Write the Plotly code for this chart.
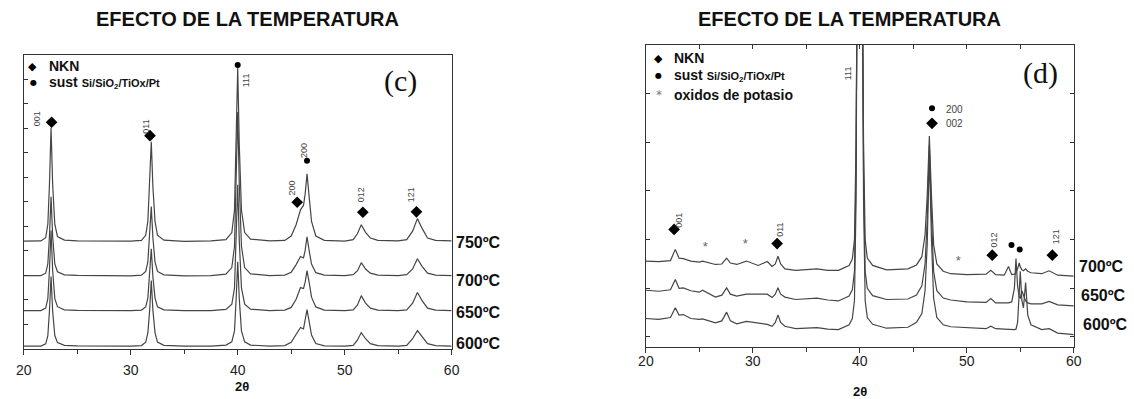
import plotly.graph_objects as go

W, H = 1134, 399

# ---------------- Panel (c) data ----------------
two_theta_c = [20, 21.6, 22.05, 22.25, 22.4, 22.55, 22.7, 22.9, 23.15, 23.8, 25, 27.5, 30,
               31.0, 31.4, 31.6, 31.77, 31.92, 32.07, 32.27, 32.5, 33.1, 35, 37.5,
               38.9, 39.45, 39.7, 39.85, 40.0, 40.15, 40.35, 40.65, 41.2, 43,
               44.4, 45.0, 45.45, 45.87, 46.15, 46.3, 46.48, 46.68, 46.9, 47.3, 48.1, 50,
               50.8, 51.2, 51.55, 51.95, 52.4, 53.1, 55,
               55.8, 56.35, 56.8, 57.25, 57.75, 58.5, 60]

c_750 = [4.39, 4.40, 4.53, 5.08, 6.70, 9.02, 6.70, 5.08, 4.58, 4.43, 4.40, 4.38, 4.39,
         4.42, 4.63, 5.20, 6.62, 8.45, 6.62, 5.20, 4.63, 4.43, 4.38, 4.40,
         4.45, 4.74, 5.66, 8.28, 11.47, 8.28, 5.66, 4.74, 4.47, 4.40,
         4.42, 4.60, 5.05, 5.67, 5.85, 6.30, 7.14, 6.20, 5.20, 4.60, 4.42, 4.39,
         4.45, 4.70, 5.06, 4.75, 4.52, 4.42, 4.40,
         4.45, 4.80, 5.31, 4.90, 4.52, 4.42, 4.40]
c_700 = [2.98, 2.98, 3.08, 3.46, 4.59, 6.20, 4.59, 3.46, 3.14, 3.01, 2.99, 2.98, 2.97,
         3.00, 3.15, 3.54, 4.53, 5.80, 4.53, 3.54, 3.15, 3.01, 2.97, 2.98,
         3.04, 3.31, 4.18, 6.66, 9.67, 6.66, 4.18, 3.31, 3.05, 2.98,
         3.00, 3.12, 3.42, 3.76, 3.70, 4.00, 4.57, 4.00, 3.45, 3.10, 3.00, 2.98,
         3.02, 3.18, 3.51, 3.25, 3.08, 3.00, 2.98,
         3.02, 3.25, 3.67, 3.35, 3.08, 3.00, 2.98]
c_650 = [1.55, 1.55, 1.65, 2.04, 3.19, 4.82, 3.19, 2.04, 1.71, 1.58, 1.56, 1.55, 1.55,
         1.57, 1.70, 2.06, 2.94, 4.08, 2.94, 2.06, 1.70, 1.58, 1.55, 1.55,
         1.60, 1.81, 2.48, 4.38, 6.69, 4.38, 2.48, 1.81, 1.61, 1.55,
         1.57, 1.68, 2.00, 2.49, 2.45, 2.70, 3.18, 2.70, 2.10, 1.70, 1.57, 1.55,
         1.58, 1.78, 2.16, 1.85, 1.65, 1.57, 1.55,
         1.58, 1.85, 2.29, 1.95, 1.65, 1.57, 1.55]
c_600 = [0.10, 0.10, 0.19, 0.53, 1.52, 2.94, 1.52, 0.53, 0.24, 0.13, 0.11, 0.10, 0.10,
         0.12, 0.26, 0.64, 1.57, 2.78, 1.57, 0.64, 0.26, 0.13, 0.10, 0.10,
         0.14, 0.27, 0.72, 2.00, 3.55, 2.00, 0.72, 0.27, 0.14, 0.10,
         0.12, 0.25, 0.55, 0.86, 0.80, 1.10, 1.59, 1.10, 0.55, 0.20, 0.11, 0.10,
         0.13, 0.35, 0.65, 0.40, 0.20, 0.12, 0.10,
         0.13, 0.40, 0.73, 0.48, 0.20, 0.12, 0.10]

temps_c = ["750ºC", "700ºC", "650ºC", "600ºC"]
temps_c_y = [4.35, 2.80, 1.49, 0.22]

nkn_c_x = [22.6, 31.8, 45.56, 51.7, 56.71]
nkn_c_y = [9.25, 8.70, 5.98, 5.57, 5.59]
pt_c_x = [40.0, 46.48]
pt_c_y = [11.59, 7.68]
hkl_c_text = ["001", "011", "111", "200", "200", "012", "121"]
hkl_c_x = [21.23, 31.43, 40.8, 46.18, 45.1, 51.55, 56.15]
hkl_c_y = [9.41, 9.07, 10.98, 8.11, 6.55, 6.28, 6.28]

# ---------------- Panel (d) data ----------------
two_theta_d = [20, 21.2, 22.3, 22.75, 23.1, 23.5, 24.2, 25.0, 25.3, 26.5,
               27.1, 27.55, 27.9, 28.5, 29.4, 30.5, 31.35, 31.8, 32.1, 32.35,
               32.6, 33.0, 34.0, 36.0, 37.0, 38.0, 39.0, 39.3, 39.5, 39.65,
               39.75, 40.0, 40.25, 40.35, 40.5, 40.7, 41.2, 42.5, 44.5, 45.3,
               45.8, 46.1, 46.3, 46.5, 46.7, 46.9, 47.2, 47.8, 48.5, 50.0,
               51.8, 52.25, 52.7, 53.5, 53.9, 54.2, 54.45, 54.6, 54.75, 54.9,
               55.0, 55.15, 55.3, 55.5, 55.7, 56.0, 57.0, 57.7, 58.5, 60.0]

d_700 = [1.56, 1.55, 1.57, 1.80, 1.62, 1.61, 1.56, 1.54, 1.56, 1.49,
         1.50, 1.62, 1.52, 1.49, 1.56, 1.47, 1.55, 1.45, 1.50, 1.66,
         1.50, 1.40, 1.37, 1.40, 1.37, 1.37, 1.47, 1.60, 2.00, 4.00,
         7.00, 20.0, 7.00, 4.00, 2.00, 1.62, 1.47, 1.38, 1.40, 1.48,
         1.65, 2.10, 2.90, 4.13, 2.90, 1.90, 1.50, 1.35, 1.30, 1.28,
         1.29, 1.37, 1.28, 1.27, 1.45, 1.28, 1.29, 1.32, 1.40, 1.52,
         1.44, 1.38, 1.36, 1.40, 1.35, 1.32, 1.30, 1.36, 1.27, 1.25]
d_650 = [0.96, 0.94, 0.97, 1.18, 1.00, 1.01, 0.95, 0.92, 0.96, 0.82,
         0.86, 1.01, 0.88, 0.84, 0.88, 0.88, 0.88, 0.81, 0.88, 1.01,
         0.88, 0.82, 0.77, 0.80, 0.76, 0.74, 0.84, 0.97, 1.35, 3.40,
         7.00, 20.0, 7.00, 3.40, 1.35, 1.00, 0.85, 0.77, 0.78, 0.86,
         1.05, 1.50, 2.40, 3.95, 2.50, 1.35, 0.95, 0.80, 0.76, 0.72,
         0.71, 0.79, 0.70, 0.69, 0.70, 0.72, 1.00, 1.61, 1.05, 0.82,
         0.80, 0.95, 0.85, 0.74, 0.70, 0.68, 0.68, 0.73, 0.66, 0.64]
d_600 = [0.38, 0.36, 0.40, 0.60, 0.45, 0.46, 0.38, 0.36, 0.37, 0.29,
         0.33, 0.51, 0.33, 0.27, 0.32, 0.29, 0.26, 0.22, 0.30, 0.45,
         0.30, 0.22, 0.17, 0.19, 0.16, 0.15, 0.25, 0.38, 0.75, 2.80,
         7.00, 20.0, 7.00, 2.80, 0.75, 0.40, 0.26, 0.18, 0.20, 0.30,
         0.48, 0.95, 1.90, 3.75, 2.00, 0.80, 0.40, 0.25, 0.21, 0.19,
         0.17, 0.22, 0.17, 0.16, 0.15, 0.15, 0.15, 0.16, 0.30, 0.90,
         1.35, 0.75, 0.60, 1.12, 0.45, 0.25, 0.15, 0.17, 0.08, 0.05]

temps_d = ["700ºC", "650ºC", "600ºC"]
temps_d_y = [1.45, 0.86, 0.26]

nkn_d_x = [22.64, 32.27, 46.75, 52.38, 58.0]
nkn_d_y = [2.21, 1.92, 4.39, 1.68, 1.68]
pt_d_x = [46.75, 54.18, 54.95]
pt_d_y = [4.70, 1.89, 1.80]
kox_d_x = [25.55, 29.3, 49.2]
kox_d_y = [1.84, 1.89, 1.55]
hkl_d_text = ["001", "011", "111", "012", "121"]
hkl_d_x = [23.16, 32.58, 38.9, 52.54, 58.34]
hkl_d_y = [2.40, 2.21, 5.42, 2.00, 2.07]
hkl_d_side_text = ["200", "002"]
hkl_d_side_x = [47.9, 47.9]
hkl_d_side_y = [4.68, 4.38]

# ---------------- figure ----------------
FONT = "Liberation Sans, Arial, sans-serif"
SERIF = "Liberation Serif, Times New Roman, serif"
SYM = "DejaVu Sans, sans-serif"
LINE = "#454545"

# plot-area edges in pixels
C_L, C_R, C_T, C_B = 16, 450, 55, 348.5
D_L, D_R, D_T, D_B = 647, 1081, 45, 346.7


def px_x(p):
    return p / W


def px_y(p):
    return 1 - p / H


fig = go.Figure()

for ys in (c_600, c_650, c_700, c_750):
    fig.add_trace(go.Scatter(x=two_theta_c, y=ys, mode="lines",
                             line=dict(color=LINE, width=1.2),
                             xaxis="x", yaxis="y", showlegend=False, hoverinfo="skip"))
for ys in (d_600, d_650, d_700):
    fig.add_trace(go.Scatter(x=two_theta_d, y=ys, mode="lines",
                             line=dict(color=LINE, width=1.2),
                             xaxis="x2", yaxis="y2", showlegend=False, hoverinfo="skip"))

fig.add_trace(go.Scatter(x=nkn_c_x, y=nkn_c_y, mode="markers",
                         marker=dict(symbol="diamond", size=9, color="black"),
                         xaxis="x", yaxis="y", showlegend=False))
fig.add_trace(go.Scatter(x=pt_c_x, y=pt_c_y, mode="markers",
                         marker=dict(symbol="circle", size=6, color="black"),
                         xaxis="x", yaxis="y", showlegend=False))
fig.add_trace(go.Scatter(x=nkn_d_x, y=nkn_d_y, mode="markers",
                         marker=dict(symbol="diamond", size=9, color="black"),
                         xaxis="x2", yaxis="y2", showlegend=False))
fig.add_trace(go.Scatter(x=pt_d_x, y=pt_d_y, mode="markers",
                         marker=dict(symbol="circle", size=6, color="black"),
                         xaxis="x2", yaxis="y2", showlegend=False))
fig.add_trace(go.Scatter(x=kox_d_x, y=kox_d_y, mode="text", text=["*"] * len(kox_d_x),
                         textfont=dict(family=FONT, size=13, color="#666"),
                         xaxis="x2", yaxis="y2", showlegend=False))
# helper trace for the top tick axis of panel (d)
fig.add_trace(go.Scatter(x=[None], y=[None], xaxis="x3", yaxis="y2",
                         showlegend=False, hoverinfo="skip"))

ann = []


def add_text(text, x, y, size, family=FONT, color="#111", xanchor="center",
             xref="paper", yref="paper", angle=0):
    ann.append(dict(text=text, x=x, y=y, xref=xref, yref=yref, showarrow=False,
                    xanchor=xanchor, yanchor="middle", textangle=angle,
                    font=dict(family=family, size=size, color=color)))


# titles
add_text("<b>EFECTO DE LA TEMPERATURA</b>", px_x(243), px_y(19), 20)
add_text("<b>EFECTO DE LA TEMPERATURA</b>", px_x(854), px_y(19), 20)
# panel letters
add_text("(c)", px_x(398), px_y(81), 30, family=SERIF)
add_text("(d)", px_x(1047), px_y(73), 30, family=SERIF)
# hkl labels
for t, x, y in zip(hkl_c_text, hkl_c_x, hkl_c_y):
    add_text(t, x, y, 9, color="#444", xref="x", yref="y", angle=-90)
for t, x, y in zip(hkl_d_text, hkl_d_x, hkl_d_y):
    add_text(t, x, y, 9, color="#444", xref="x2", yref="y2", angle=-90)
for t, x, y in zip(hkl_d_side_text, hkl_d_side_x, hkl_d_side_y):
    add_text(t, x, y, 10, color="#444", xref="x2", yref="y2", xanchor="left")
# temperature labels
for t, y in zip(temps_c, temps_c_y):
    add_text("<b>" + t + "</b>", px_x(452), y, 16, xanchor="left", yref="y")
for t, y, x0 in zip(temps_d, temps_d_y, (1084, 1086, 1088)):
    add_text("<b>" + t + "</b>", px_x(x0), y, 16, xanchor="left", yref="y2")
# axis titles
add_text("<b>2θ</b>", px_x(237), px_y(386), 13)
add_text("<b>2θ</b>", px_x(864), px_y(391), 13)

# in-plot keys
sust = "<b>sust <span style='font-size:11px'>Si/SiO<sub>2</sub>/TiOx/Pt</span></b>"
keys = [
    ("◆", 11, "black", 25, 66, "<b>NKN</b>", 40),
    ("●", 8, "black", 26, 82, sust, 40),
    ("◆", 11, "black", 660, 58, "<b>NKN</b>", 673),
    ("●", 8, "black", 660, 75, sust, 673),
    ("*", 12, "#777", 660, 95, "<b>oxidos de potasio</b>", 673),
]
for sym, ssize, scol, sx, sy, txt, tx in keys:
    add_text(sym, px_x(sx), px_y(sy), ssize, family=SYM, color=scol)
    add_text(txt, px_x(tx), px_y(sy), 14, xanchor="left")

axis_common = dict(showgrid=False, zeroline=False, showline=True, linewidth=1.2,
                   linecolor="#333")

fig.update_layout(
    width=W, height=H, margin=dict(l=0, r=0, t=0, b=0),
    paper_bgcolor="white", plot_bgcolor="white", showlegend=False,
    annotations=ann,
    xaxis=dict(domain=[px_x(C_L), px_x(C_R)], range=[20, 60], anchor="y",
               tickmode="linear", tick0=20, dtick=10, ticks="outside", ticklen=5,
               tickcolor="#333", mirror=True,
               minor=dict(dtick=5, tick0=20, ticks="outside", ticklen=4, tickcolor="#333"),
               tickfont=dict(family=FONT, size=14, color="#222"),
               ticklabelstandoff=4, **axis_common),
    yaxis=dict(domain=[px_y(C_B), px_y(C_T)], range=[0, 12], anchor="x",
               tickmode="linear", tick0=0, dtick=1, ticks="inside", ticklen=4,
               tickcolor="#333", showticklabels=False, mirror=True, **axis_common),
    xaxis2=dict(domain=[px_x(D_L), px_x(D_R)], range=[20, 60], anchor="y2",
                tickmode="linear", tick0=20, dtick=10, ticks="outside", ticklen=5,
                tickcolor="#333", mirror=True,
                minor=dict(dtick=5, tick0=20, ticks="outside", ticklen=4, tickcolor="#333"),
                tickfont=dict(family=FONT, size=14, color="#222"),
                ticklabelstandoff=-4, **axis_common),
    xaxis3=dict(overlaying="x2", side="top", anchor="y2", range=[20, 60],
                tickmode="linear", tick0=20, dtick=5, ticks="inside", ticklen=4,
                tickcolor="#333", showticklabels=False, showgrid=False, zeroline=False,
                showline=False),
    yaxis2=dict(domain=[px_y(D_B), px_y(D_T)], range=[-0.2, 6.0], anchor="x2",
                tickmode="linear", tick0=0, dtick=1, ticks="inside", ticklen=4,
                tickcolor="#333", showticklabels=False, mirror="ticks", **axis_common),
)

fig.write_html("out.html")
